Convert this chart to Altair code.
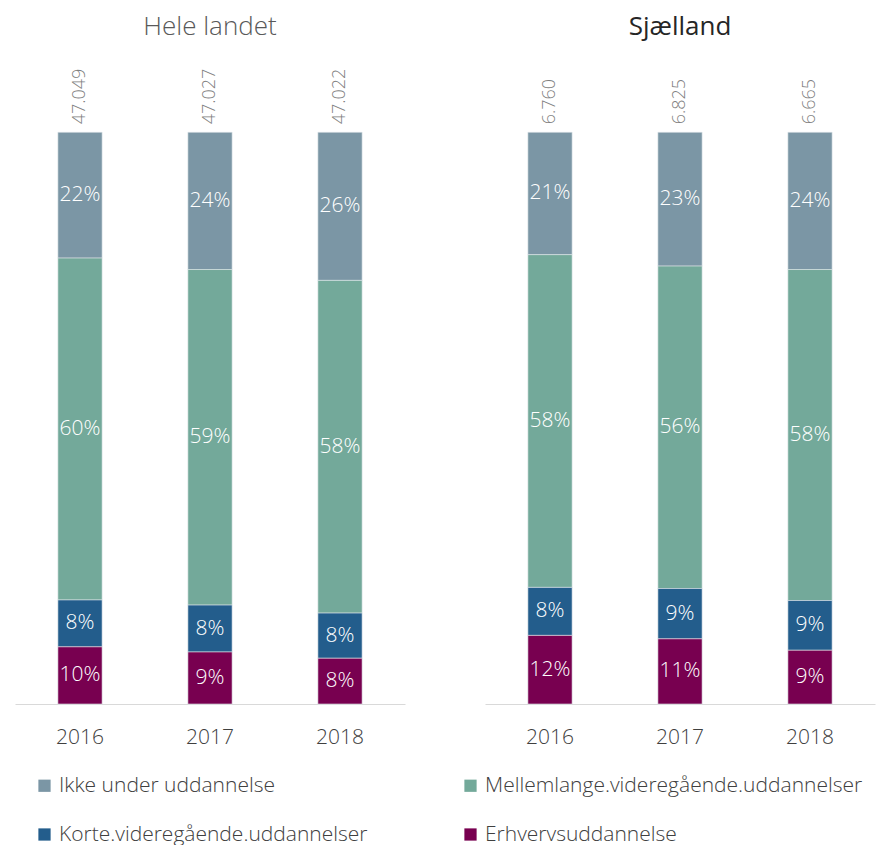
import altair as alt
import pandas as pd

years = ["2016", "2017", "2018"]
regions = ["Hele landet", "Sjælland"]
categories = [
    "Ikke under uddannelse",
    "Mellemlange.videregående.uddannelser",
    "Korte.videregående.uddannelser",
    "Erhvervsuddannelse",
]
colors = ["#7b96a5", "#73a99a", "#235d8c", "#780050"]
stack_order = [3, 2, 1, 0]  # Erhverv at the bottom

# percent shares per region, per category (order as categories), per year
hele_ikke = [22.0, 24.0, 25.9]
hele_mellem = [59.8, 58.7, 58.2]
hele_korte = [8.2, 8.2, 7.9]
hele_erhverv = [10.0, 9.1, 8.0]

sj_ikke = [21.4, 23.4, 24.0]
sj_mellem = [58.2, 56.4, 57.9]
sj_korte = [8.4, 8.8, 8.7]
sj_erhverv = [12.0, 11.4, 9.4]

hele_totals = [47049, 47027, 47022]
sj_totals = [6760, 6825, 6665]

shares = {
    "Hele landet": [hele_ikke, hele_mellem, hele_korte, hele_erhverv],
    "Sjælland": [sj_ikke, sj_mellem, sj_korte, sj_erhverv],
}
totals = {"Hele landet": hele_totals, "Sjælland": sj_totals}

rows = []
for r in regions:
    for ci, c in enumerate(categories):
        for yi, y in enumerate(years):
            rows.append({"region": r, "cat": c, "ord": stack_order[ci],
                         "year": y, "pct": shares[r][ci][yi]})
df = pd.DataFrame(rows)

trows = []
for r in regions:
    for yi, y in enumerate(years):
        trows.append({"region": r, "year": y, "total": totals[r][yi], "top": 100})
tdf = pd.DataFrame(trows)

FONT = "Open Sans"
YMAX = 113

color_scale = alt.Scale(domain=categories, range=colors)


def panel(region, title_weight, title_color):
    base = alt.Chart(df).transform_filter(alt.datum.region == region).transform_stack(
        stack="pct", as_=["y0", "y1"], groupby=["year"],
        sort=[alt.SortField("ord", order="ascending")],
    )
    xenc = alt.X("year:N", sort=years, title=None,
                 scale=alt.Scale(paddingInner=0.66, paddingOuter=0.33),
                 axis=alt.Axis(labelAngle=0, ticks=False, labelFontSize=21,
                               labelColor="#404040", labelFont=FONT,
                               labelFontWeight=300,
                               labelPadding=22, domainColor="#d9d9d9",
                               domainWidth=1))
    yscale = alt.Scale(domain=[0, YMAX], nice=False)
    bars = base.mark_bar(stroke="#dfe6ea", strokeWidth=0.6).encode(
        x=xenc,
        y=alt.Y("y0:Q", scale=yscale, axis=None),
        y2="y1:Q",
        color=alt.Color("cat:N", scale=color_scale, sort=categories,
                        legend=alt.Legend(
                            title=None, orient="none", legendX=19, legendY=717,
                            direction="horizontal", columns=2,
                            symbolType="square", symbolSize=150,
                            symbolStrokeWidth=0, labelFontSize=21,
                            labelFont=FONT, labelFontWeight=300,
                            labelColor="#404040", labelLimit=600,
                            columnPadding=92, rowPadding=27,
                            labelOffset=4)),
    )
    labels = base.transform_calculate(
        mid="(datum.y0 + datum.y1) / 2",
        lab="format(datum.pct / 100, '.0%')",
    ).mark_text(color="white", fontSize=21, font=FONT, fontWeight=300,
                baseline="middle").encode(
        x=alt.X("year:N", sort=years),
        y=alt.Y("mid:Q", scale=yscale),
        text="lab:N",
    )
    tot = alt.Chart(tdf).transform_filter(alt.datum.region == region).transform_calculate(
        lab="replace(format(datum.total, ','), ',', '.')"
    ).mark_text(angle=270, align="left", baseline="middle", yOffset=-8,
                color="#7f7f7f", fontSize=18, font=FONT, fontWeight=300).encode(
        x=alt.X("year:N", sort=years),
        y=alt.Y("top:Q", scale=yscale),
        text="lab:N",
    )
    return alt.layer(bars, labels, tot).properties(
        width=390, height=646,
        title=alt.TitleParams(region, fontSize=26, font=FONT,
                              fontWeight=title_weight, color=title_color,
                              offset=18, anchor="middle"),
    )


chart = alt.hconcat(
    panel("Hele landet", 300, "#595959"),
    panel("Sjælland", 400, "#262626"),
    spacing=80,
).properties(
    padding={"left": 7, "top": 6, "right": 5, "bottom": 0}
).configure_view(stroke=None).configure_axis(grid=False)

chart.save("out.html", embed_options={"renderer": "svg", "actions": False})
